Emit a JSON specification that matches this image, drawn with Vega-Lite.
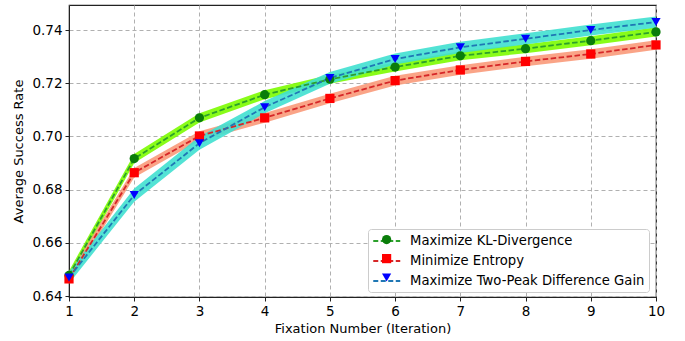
{
  "$schema": "https://vega.github.io/schema/vega-lite/v6.json",
  "width": 587,
  "height": 292,
  "autosize": {"type": "none"},
  "padding": {"left": 69, "top": 5, "right": 29, "bottom": 44},
  "config": {
    "font": "DejaVu Sans",
    "view": {"stroke": "#222", "strokeWidth": 1.2},
    "axis": {
      "labelFontSize": 13.5,
      "titleFontSize": 13,
      "titleFontWeight": "normal",
      "labelColor": "#000",
      "titleColor": "#000",
      "tickColor": "#222",
      "domainColor": "#222",
      "tickSize": 4,
      "labelPadding": 3,
      "labelFlush": false,
      "grid": true,
      "gridColor": "#b0b0b0",
      "gridDash": [4, 3],
      "gridWidth": 1
    }
  },
  "data": {
    "values": [
      {"method": "Maximize KL-Divergence", "key": "A", "x": 1, "mean": 0.6478, "lo": 0.6461, "hi": 0.6495},
      {"method": "Maximize KL-Divergence", "key": "A", "x": 2, "mean": 0.6917, "lo": 0.6900, "hi": 0.6934},
      {"method": "Maximize KL-Divergence", "key": "A", "x": 3, "mean": 0.7070, "lo": 0.7053, "hi": 0.7087},
      {"method": "Maximize KL-Divergence", "key": "A", "x": 4, "mean": 0.7157, "lo": 0.7140, "hi": 0.7174},
      {"method": "Maximize KL-Divergence", "key": "A", "x": 5, "mean": 0.7215, "lo": 0.7198, "hi": 0.7232},
      {"method": "Maximize KL-Divergence", "key": "A", "x": 6, "mean": 0.7261, "lo": 0.7244, "hi": 0.7278},
      {"method": "Maximize KL-Divergence", "key": "A", "x": 7, "mean": 0.7303, "lo": 0.7286, "hi": 0.7320},
      {"method": "Maximize KL-Divergence", "key": "A", "x": 8, "mean": 0.7330, "lo": 0.7313, "hi": 0.7347},
      {"method": "Maximize KL-Divergence", "key": "A", "x": 9, "mean": 0.7360, "lo": 0.7343, "hi": 0.7377},
      {"method": "Maximize KL-Divergence", "key": "A", "x": 10, "mean": 0.7393, "lo": 0.7376, "hi": 0.7410},
      {"method": "Minimize Entropy", "key": "B", "x": 1, "mean": 0.6465, "lo": 0.6447, "hi": 0.6483},
      {"method": "Minimize Entropy", "key": "B", "x": 2, "mean": 0.6864, "lo": 0.6846, "hi": 0.6882},
      {"method": "Minimize Entropy", "key": "B", "x": 3, "mean": 0.7002, "lo": 0.6984, "hi": 0.7020},
      {"method": "Minimize Entropy", "key": "B", "x": 4, "mean": 0.7070, "lo": 0.7052, "hi": 0.7088},
      {"method": "Minimize Entropy", "key": "B", "x": 5, "mean": 0.7143, "lo": 0.7125, "hi": 0.7161},
      {"method": "Minimize Entropy", "key": "B", "x": 6, "mean": 0.7210, "lo": 0.7192, "hi": 0.7228},
      {"method": "Minimize Entropy", "key": "B", "x": 7, "mean": 0.7250, "lo": 0.7232, "hi": 0.7268},
      {"method": "Minimize Entropy", "key": "B", "x": 8, "mean": 0.7282, "lo": 0.7264, "hi": 0.7300},
      {"method": "Minimize Entropy", "key": "B", "x": 9, "mean": 0.7310, "lo": 0.7292, "hi": 0.7328},
      {"method": "Minimize Entropy", "key": "B", "x": 10, "mean": 0.7344, "lo": 0.7326, "hi": 0.7362},
      {"method": "Maximize Two-Peak Difference Gain", "key": "C", "x": 1, "mean": 0.6470, "lo": 0.6448, "hi": 0.6492},
      {"method": "Maximize Two-Peak Difference Gain", "key": "C", "x": 2, "mean": 0.6780, "lo": 0.6755, "hi": 0.6805},
      {"method": "Maximize Two-Peak Difference Gain", "key": "C", "x": 3, "mean": 0.6975, "lo": 0.6950, "hi": 0.7000},
      {"method": "Maximize Two-Peak Difference Gain", "key": "C", "x": 4, "mean": 0.7110, "lo": 0.7087, "hi": 0.7133},
      {"method": "Maximize Two-Peak Difference Gain", "key": "C", "x": 5, "mean": 0.7220, "lo": 0.7198, "hi": 0.7242},
      {"method": "Maximize Two-Peak Difference Gain", "key": "C", "x": 6, "mean": 0.7291, "lo": 0.7270, "hi": 0.7312},
      {"method": "Maximize Two-Peak Difference Gain", "key": "C", "x": 7, "mean": 0.7335, "lo": 0.7314, "hi": 0.7356},
      {"method": "Maximize Two-Peak Difference Gain", "key": "C", "x": 8, "mean": 0.7367, "lo": 0.7346, "hi": 0.7388},
      {"method": "Maximize Two-Peak Difference Gain", "key": "C", "x": 9, "mean": 0.7400, "lo": 0.7379, "hi": 0.7421},
      {"method": "Maximize Two-Peak Difference Gain", "key": "C", "x": 10, "mean": 0.7430, "lo": 0.7409, "hi": 0.7451}
    ]
  },
  "encoding": {
    "x": {
      "field": "x",
      "type": "quantitative",
      "scale": {"domain": [1, 10], "nice": false, "zero": false},
      "axis": {"title": "Fixation Number (Iteration)", "values": [1,2,3,4,5,6,7,8,9,10], "format": "d", "titlePadding": 5}
    }
  },
  "layer": [
    {
      "transform": [{"filter": "datum.key === 'A'"}],
      "mark": {"type": "area", "color": "#7CFC00", "opacity": 0.9},
      "encoding": {
        "y": {"field": "lo", "type": "quantitative", "scale": {"domain": [0.6397, 0.7494], "nice": false, "zero": false},
          "axis": {"title": "Average Success Rate", "values": [0.64, 0.66, 0.68, 0.70, 0.72, 0.74], "format": ".2f", "titlePadding": 6}},
        "y2": {"field": "hi"}
      }
    },
    {
      "transform": [{"filter": "datum.key === 'B'"}],
      "mark": {"type": "area", "color": "#FA9A7A", "opacity": 0.9},
      "encoding": {"y": {"field": "lo", "type": "quantitative"}, "y2": {"field": "hi"}}
    },
    {
      "transform": [{"filter": "datum.key === 'C'"}],
      "mark": {"type": "area", "color": "#40E0D0", "opacity": 0.9},
      "encoding": {"y": {"field": "lo", "type": "quantitative"}, "y2": {"field": "hi"}}
    },
    {
      "mark": {"type": "line", "strokeWidth": 1.8, "strokeDash": [5.5, 2.5]},
      "encoding": {
        "y": {"field": "mean", "type": "quantitative"},
        "stroke": {
          "field": "method", "type": "nominal",
          "scale": {"domain": ["Maximize KL-Divergence", "Minimize Entropy", "Maximize Two-Peak Difference Gain"], "range": ["#2ca02c", "#d62728", "#1f77b4"]},
          "legend": {"orient": "none", "legendX": 299, "legendY": 224, "title": null, "symbolType": "M-1,0L3,0", "symbolStrokeWidth": 1.8, "symbolDash": [5, 2.5], "symbolSize": 182, "labelFontSize": 13.2, "labelLimit": 0, "labelColor": "#000", "fillColor": "white", "strokeColor": "#cccccc", "padding": 4, "cornerRadius": 3, "rowPadding": 5, "labelOffset": 22, "zindex": 1}
        }
      }
    },
    {
      "mark": {"type": "point", "filled": true, "opacity": 1, "size": 85},
      "encoding": {
        "y": {"field": "mean", "type": "quantitative"},
        "fill": {
          "field": "key", "type": "nominal",
          "scale": {"domain": ["A", "B", "C"], "range": ["#0a7d0a", "#ff0000", "#0000ff"]},
          "legend": {"orient": "none", "legendX": 307, "legendY": 224, "title": null, "symbolSize": 85, "symbolStrokeWidth": 0, "labelFontSize": 13.2, "labelExpr": "''", "padding": 4, "rowPadding": 5, "labelOffset": 10, "zindex": 2}
        },
        "shape": {
          "field": "key", "type": "nominal",
          "scale": {"domain": ["A", "B", "C"], "range": ["circle", "square", "triangle-down"]},
          "legend": {"orient": "none", "legendX": 307, "legendY": 224, "title": null, "symbolSize": 85, "symbolStrokeWidth": 0, "labelFontSize": 13.2, "labelExpr": "''", "padding": 4, "rowPadding": 5, "labelOffset": 10, "zindex": 2}
        }
      }
    }
  ]
}
